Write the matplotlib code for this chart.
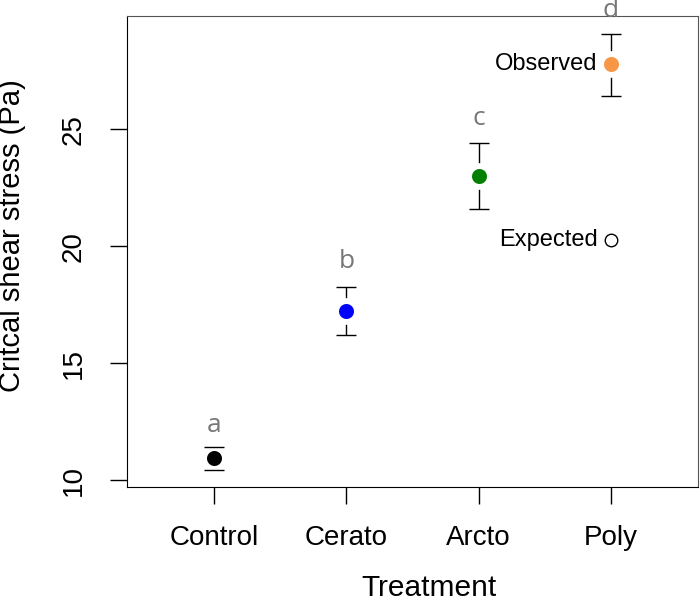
import numpy as np
import matplotlib.pyplot as plt

# valeurs
traitements = ["Control", "Cerato", "Arcto", "Poly"]
moyennes = [10.93, 17.22, 23.0, 27.78]
haut = [11.42, 18.25, 24.41, 29.09]
bas = [10.43, 16.2, 21.58, 26.42]
couleurs = ["black", "#0000ff", "#008000", "#f79646"]
lettres = ["a", "b", "c", "d"]
y_lettres = [12.35, 19.36, 25.47, 30.08]
attendu = 20.26

plt.rcParams['font.family'] = ['Liberation Sans', 'DejaVu Sans']

fig = plt.figure(figsize=(7, 6.02), dpi=100)
ax = fig.add_axes([0.1814, 0.191, 0.8156, 0.782])

x = np.arange(1, len(traitements) + 1)
moy = np.array(moyennes)
err = [moy - np.array(bas), np.array(haut) - moy]
eb = ax.errorbar(x, moy, yerr=err, fmt="none", ecolor="black", elinewidth=1,
                 capsize=7, capthick=1, zorder=2)
for cap in eb[1]:
    cap.set_zorder(4)
# bord blanc pour laisser un espace entre le point et la barre
for xi, m, c in zip(x, moyennes, couleurs):
    ax.plot(xi, m, "o", color=c, markersize=15, markeredgecolor="white",
            markeredgewidth=4.2, zorder=3)

# valeur attendue pour Poly
ax.plot(4, attendu, "o", markerfacecolor="white", markeredgecolor="black",
        markersize=9, markeredgewidth=1, zorder=3)
ax.text(3.9, moyennes[3], "Observed", ha="right", va="center", fontsize=17)
ax.text(3.9, attendu, "Expected", ha="right", va="center", fontsize=17)

for xi, yl, l in zip(x, y_lettres, lettres):
    ax.text(xi, yl, l, ha="center", va="center", color="#777777",
            fontsize=19, family=["Open Sans", "DejaVu Sans"], clip_on=False)

ax.set_xlim(0.34, 4.66)
ax.set_ylim(9.7, 29.83)
ax.set_xticks(x)
ax.set_xticklabels(traitements)
ax.set_yticks([10, 15, 20, 25])
ax.tick_params(axis="both", direction="out", length=12, width=1, labelsize=20)
ax.tick_params(axis="x", pad=15)
ax.tick_params(axis="y", pad=17)
for lab in ax.get_yticklabels():
    lab.set_rotation(90)
    lab.set_va("center")
for s in ["top", "right"]:
    ax.spines[s].set_color("#555555")

ax.set_xlabel("Treatment", fontsize=21.5)
ax.set_ylabel("Critcal shear stress (Pa)", fontsize=21)
ax.xaxis.set_label_coords(0.529, -0.184)
ax.yaxis.set_label_coords(-0.176, 0.535)

fig.savefig("out.png", dpi=100)
